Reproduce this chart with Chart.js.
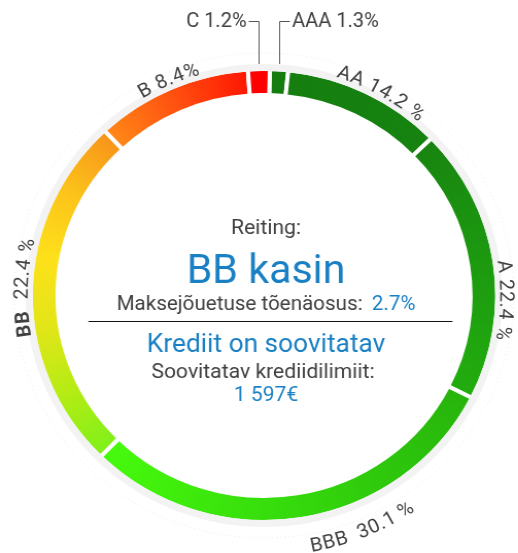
<!DOCTYPE html>
<html>
<head>
<meta charset="utf-8">
<script src="https://cdn.jsdelivr.net/npm/chart.js@4.4.1/dist/chart.umd.min.js"></script>
<style>
  html, body { margin: 0; padding: 0; background: #fff; }
  #wrap { width: 518px; height: 553px; overflow: hidden; }
  /* the reference ring is a little wider than tall */
  #ratingChart { transform: scaleX(1.03); transform-origin: 0 0; }
</style>
</head>
<body>
<div id="wrap"><canvas id="ratingChart" width="503" height="553"></canvas></div>
<script>
// --- data ---
const ratings = ['AAA', 'AA', 'A', 'BBB', 'BB', 'B', 'C'];
const shares = [1.3, 14.2, 22.4, 30.1, 22.4, 8.4, 1.2];        // printed percentages
const arcSizes = [1.26, 11.1, 19.7, 29.9, 25.6, 10.9, 1.5];     // share of ring as drawn
const currentRating = 'BB';
const ratingTitle = 'Reiting:';
const ratingText = 'BB kasin';
const probLabel = 'Maksejõuetuse tõenäosus:';
const probValue = '2.7%';
const creditText = 'Krediit on soovitatav';
const limitLabel = 'Soovitatav krediidilimiit:';
const limitValue = '1 597€';

// --- style ---
const segmentColors = [
    ['#157d0f', '#157d0f'],
    ['#157e0f', '#168310'],
    ['#188510', '#1d9a10', '#22ad0e'],
    ['#27b40c', '#30cc0c', '#3ae40c', '#47fa0c'],
    ['#80f01a', '#b5ec14', '#e2e618', '#fde11a', '#fcc41a', '#f8941a'],
    ['#ff8818', '#ff5010', '#ff1602'],
    ['#ff0000', '#ff0000']
];
const labelShift = [0, 3.3, 9.7, -13, 1.2, 0.3, 0];   // degrees, along the ring
const greyText = '#404040';
const blueText = '#1a80c4';
const fontFamily = "Roboto, 'Open Sans', sans-serif";
const labelSize = 19.5;

function arcFill(context) {
    const i = context.dataIndex;
    if (context.type !== 'data' || !context.chart.chartArea) return segmentColors[i || 0][0];
    const chart = context.chart;
    const area = chart.chartArea;
    const total = arcSizes.reduce((a, b) => a + b, 0);
    let before = 0;
    for (let k = 0; k < i; k++) before += arcSizes[k];
    const rot = chart.options.rotation * Math.PI / 180;
    const a0 = -Math.PI / 2 + rot + before / total * 2 * Math.PI - 0.02;
    const span = arcSizes[i] / total;
    const pad = 0.02 / (2 * Math.PI);
    const g = chart.ctx.createConicGradient(a0, (area.left + area.right) / 2, (area.top + area.bottom) / 2);
    const stops = segmentColors[i];
    stops.forEach((c, k) => g.addColorStop(Math.min(1, pad + span * k / (stops.length - 1)), c));
    return g;
}

// light halo and faint dotted circle round the ring
const haloPlugin = {
    id: 'halo',
    afterDatasetsDraw(chart) {
        const arc = chart.getDatasetMeta(0).data[0];
        const ctx = chart.ctx;
        const r = arc.outerRadius - 2;
        ctx.save();
        ctx.beginPath();
        ctx.arc(arc.x, arc.y, r + 3.5, 0, Math.PI * 2);
        ctx.lineWidth = 7;
        ctx.strokeStyle = '#f3f3f3';
        ctx.stroke();
        ctx.beginPath();
        ctx.arc(arc.x, arc.y, r + 18, 0, Math.PI * 2);
        ctx.lineWidth = 1;
        ctx.setLineDash([1, 3]);
        ctx.strokeStyle = '#e2eede';
        ctx.stroke();
        ctx.restore();
    }
};

function labelParts(i) {
    const pct = shares[i] < 10 ? shares[i] + '%' : shares[i] + ' %';
    const bold = ratings[i] === currentRating;
    return [
        { text: ratings[i], font: (bold ? 'bold ' : '') + labelSize + 'px ' + fontFamily },
        { text: (bold || i === 3 ? '  ' : ' ') + pct, font: labelSize + 'px ' + fontFamily }
    ];
}

function arcText(ctx, cx, cy, parts, mid, r, flip) {
    const chars = [];
    parts.forEach(p => {
        ctx.font = p.font;
        for (const ch of p.text) chars.push({ ch, font: p.font, w: ctx.measureText(ch).width + 0.6 });
    });
    const total = chars.reduce((s, c) => s + c.w, 0);
    const span = total / r;
    let acc = 0;
    chars.forEach(c => {
        const off = (acc + c.w / 2) / r;
        const phi = flip ? mid + span / 2 - off : mid - span / 2 + off;
        ctx.save();
        ctx.translate(cx + r * Math.cos(phi), cy + r * Math.sin(phi));
        ctx.rotate(flip ? phi - Math.PI / 2 : phi + Math.PI / 2);
        ctx.font = c.font;
        ctx.fillText(c.ch, 0, 0);
        ctx.restore();
        acc += c.w;
    });
}

const labelPlugin = {
    id: 'ringLabels',
    afterDraw(chart) {
        const ctx = chart.ctx;
        const arcs = chart.getDatasetMeta(0).data;
        const cx = arcs[0].x, cy = arcs[0].y;
        const outer = arcs[0].outerRadius - 2;
        ctx.save();
        ctx.fillStyle = greyText;
        ctx.textAlign = 'center';
        ctx.textBaseline = 'alphabetic';
        arcs.forEach((arc, i) => {
            const mid = (arc.startAngle + arc.endAngle) / 2 + labelShift[i] * Math.PI / 180;
            if (shares[i] < 2) {
                // small slices: callout line up to a label above the ring
                const lineY = 21.5;
                const x0 = Math.round(cx + (outer + 7) * Math.cos(mid)) + 0.5;
                const y0 = cy - (outer + 7);
                const dir = x0 < cx ? -1 : 1;
                ctx.save();
                ctx.strokeStyle = '#555555';
                ctx.lineWidth = 1;
                ctx.beginPath();
                ctx.moveTo(x0, y0);
                ctx.lineTo(x0, lineY);
                ctx.lineTo(x0 + dir * 10, lineY);
                ctx.stroke();
                ctx.font = labelSize + 'px ' + fontFamily;
                ctx.textAlign = dir < 0 ? 'right' : 'left';
                ctx.textBaseline = 'middle';
                ctx.fillText(ratings[i] + ' ' + shares[i] + '%', x0 + dir * 12, lineY + 1);
                ctx.restore();
                return;
            }
            const deg = ((mid * 180 / Math.PI) + 90 + 360) % 360;
            const flip = deg > 100 && deg < 260;
            arcText(ctx, cx, cy, labelParts(i), mid, flip ? outer + 36 : outer + 5, flip);
        });
        ctx.restore();
    }
};

const centerPlugin = {
    id: 'centerText',
    afterDraw(chart) {
        const ctx = chart.ctx;
        const arc = chart.getDatasetMeta(0).data[0];
        const cx = arc.x + 2, cy = arc.y;
        ctx.save();
        ctx.textAlign = 'center';
        ctx.textBaseline = 'alphabetic';

        ctx.fillStyle = greyText;
        ctx.font = '20.5px ' + fontFamily;
        ctx.fillText(ratingTitle, cx, cy - 61.5);

        ctx.fillStyle = blueText;
        ctx.font = '40px ' + fontFamily;
        ctx.fillText(ratingText, cx, cy - 12.5);

        ctx.font = '20px ' + fontFamily;
        const w1 = ctx.measureText(probLabel).width;
        const w2 = ctx.measureText(probValue).width;
        const gap = 9;
        const left = cx - (w1 + gap + w2) / 2;
        ctx.textAlign = 'left';
        ctx.fillStyle = greyText;
        ctx.fillText(probLabel, left, cy + 14.5);
        ctx.fillStyle = blueText;
        ctx.fillText(probValue, left + w1 + gap, cy + 14.5);

        ctx.strokeStyle = '#111111';
        ctx.lineWidth = 1;
        ctx.beginPath();
        ctx.moveTo(cx - 172.5, Math.round(cy + 25.5) + 0.5);
        ctx.lineTo(cx + 181, Math.round(cy + 25.5) + 0.5);
        ctx.stroke();

        ctx.textAlign = 'center';
        ctx.fillStyle = blueText;
        ctx.font = '25.5px ' + fontFamily;
        ctx.fillText(creditText, cx, cy + 56.5);

        ctx.fillStyle = greyText;
        ctx.font = '20.5px ' + fontFamily;
        ctx.fillText(limitLabel, cx - 3, cy + 82.5);

        ctx.fillStyle = blueText;
        ctx.fillText(limitValue, cx, cy + 105.5);
        ctx.restore();
    }
};

const ctx = document.getElementById('ratingChart').getContext('2d');
window.ratingChart = new Chart(ctx, {
    type: 'doughnut',
    data: {
        labels: ratings,
        datasets: [{
            data: arcSizes,
            backgroundColor: arcFill,
            borderColor: '#ffffff',
            borderWidth: 4
        }]
    },
    options: {
        responsive: false,
        animation: false,
        events: [],
        rotation: 1.45,
        radius: 226.5,
        cutout: '88.5%',
        layout: { padding: { left: 9.6, right: 0, top: 38, bottom: 0 } },
        plugins: {
            legend: { display: false },
            tooltip: { enabled: false }
        }
    },
    plugins: [haloPlugin, labelPlugin, centerPlugin]
});
</script>
</body>
</html>
